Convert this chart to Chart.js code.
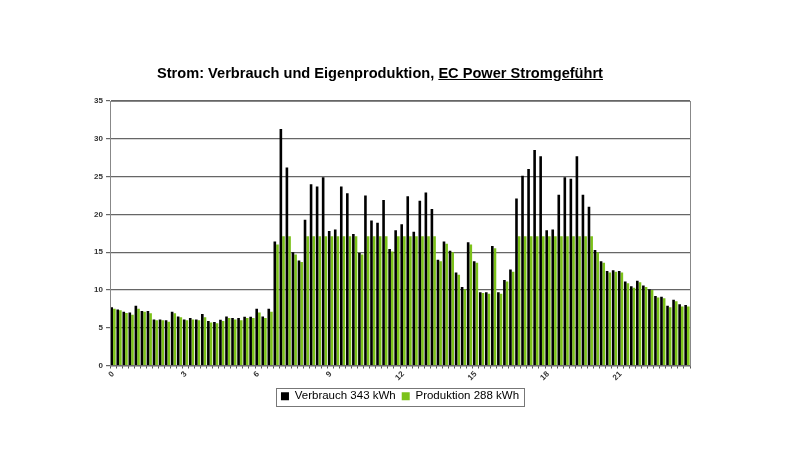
<!DOCTYPE html>
<html lang="de">
<head>
<meta charset="UTF-8">
<title>Strom: Verbrauch und Eigenproduktion</title>
<script src="https://cdn.jsdelivr.net/npm/chart.js"></script>
<style>
  body { margin: 0; background: #fff; }
  #wrap { position: relative; width: 800px; height: 450px; }
  #title {
    position: absolute; left: 0; width: 760px; top: 65px;
    text-align: center; white-space: nowrap;
    font: bold 14.6px "Liberation Sans", Arial, sans-serif; color: #000;
  }
  canvas { display: block; }
</style>
</head>
<body>
<div id="wrap">
  <div id="title">Strom: Verbrauch und Eigenproduktion, <u>EC Power Stromgeführt</u></div>
  <canvas id="chart" width="800" height="450"></canvas>
</div>
<script>
// 96 Viertelstunden, Beschriftung alle 3 Stunden
const slots = Array.from({ length: 96 }, (_, i) => i / 4);
const hourLabels = ['0', '3', '6', '9', '12', '15', '18', '21'];

// kW je Viertelstunde
const verbrauch = [
  7.7, 7.4, 7.1, 7.0, 7.9, 7.2, 7.2, 6.1, 6.1, 6.0, 7.1, 6.5,
  6.1, 6.3, 6.1, 6.8, 5.9, 5.75, 6.05, 6.5, 6.3, 6.3, 6.45, 6.45,
  7.5, 6.5, 7.5, 16.4, 31.3, 26.2, 15.0, 13.9, 19.3, 24.0, 23.7, 24.9,
  17.8, 18.0, 23.7, 22.8, 17.4, 14.9, 22.5, 19.2, 18.9, 21.9, 15.4, 17.9,
  18.7, 22.4, 17.7, 21.8, 22.9, 20.7, 14.0, 16.4, 15.2, 12.3, 10.4, 16.3,
  13.8, 9.7, 9.7, 15.8, 9.7, 11.3, 12.7, 22.1, 25.1, 26.0, 28.5, 27.7,
  17.9, 18.0, 22.6, 24.9, 24.7, 27.7, 22.6, 21.0, 15.3, 13.8, 12.5, 12.6,
  12.5, 11.1, 10.5, 11.2, 10.6, 10.1, 9.2, 9.1, 7.9, 8.7, 8.1, 8.0
];
const produktion = [
  7.5, 7.3, 6.95, 6.7, 7.5, 7.1, 6.9, 6.0, 6.0, 5.8, 6.9, 6.4,
  6.0, 6.1, 6.0, 6.4, 5.7, 5.6, 5.9, 6.3, 6.1, 6.0, 6.3, 6.3,
  7.0, 6.3, 7.1, 16.0, 17.1, 17.1, 14.7, 13.7, 17.1, 17.1, 17.1, 17.1,
  17.1, 17.1, 17.1, 17.1, 17.1, 14.7, 17.1, 17.1, 17.1, 17.1, 15.1, 17.1,
  17.1, 17.1, 17.1, 17.1, 17.1, 17.1, 13.8, 16.1, 15.0, 12.0, 10.1, 16.0,
  13.6, 9.6, 9.5, 15.5, 9.5, 11.1, 12.4, 17.1, 17.1, 17.1, 17.1, 17.1,
  17.1, 17.1, 17.1, 17.1, 17.1, 17.1, 17.1, 17.1, 15.0, 13.6, 12.3, 12.4,
  12.3, 10.9, 10.3, 11.0, 10.4, 10.0, 9.0, 8.9, 7.7, 8.5, 7.8, 7.8
];

const font = '"Liberation Sans", Arial, sans-serif';

// Legende mittig unter der Plotfläche statt unter der ganzen Breite
const centerLegend = {
  id: 'centerLegend',
  afterLayout(chart) {
    const lg = chart.legend;
    const a = chart.chartArea;
    const d = (a.left + a.right) / 2 - (lg.left + lg.right) / 2;
    lg.left += d;
    lg.right += d;
    lg.legendHitBoxes.forEach(b => { b.left += d; });
  }
};

// Rahmen um Plotfläche und Legende
const frames = {
  id: 'frames',
  afterDraw(chart) {
    const ctx = chart.ctx;
    const a = chart.chartArea;
    ctx.save();
    ctx.strokeStyle = '#888';
    ctx.lineWidth = 1;
    ctx.strokeRect(a.left + 0.5, a.top + 0.5, a.right - a.left, a.bottom - a.top);
    const boxes = chart.legend.legendHitBoxes;
    if (boxes.length) {
      const first = boxes[0], last = boxes[boxes.length - 1];
      const x0 = first.left - 5, x1 = last.left + last.width + 5;
      const y0 = first.top - 3, h = first.height + 6;
      ctx.strokeStyle = '#777';
      ctx.strokeRect(Math.round(x0) + 0.5, Math.round(y0) + 0.5, Math.round(x1 - x0), Math.round(h));
    }
    ctx.restore();
  }
};

new Chart(document.getElementById('chart'), {
  type: 'bar',
  data: {
    labels: slots,
    datasets: [
      { label: 'Verbrauch 343 kWh', data: verbrauch, backgroundColor: '#000000', borderWidth: 0 },
      { label: 'Produktion 288 kWh', data: produktion, backgroundColor: '#7cc21a', borderWidth: 0 }
    ]
  },
  options: {
    responsive: false,
    animation: false,
    datasets: { bar: { categoryPercentage: 0.88, barPercentage: 0.98 } },
    layout: { padding: { left: 86, right: 110, top: 101, bottom: 38 } },
    plugins: {
      title: { display: false },
      tooltip: { enabled: false },
      legend: {
        position: 'bottom',
        labels: {
          boxWidth: 8, boxHeight: 8, padding: 6,
          color: '#000', font: { family: font, size: 11.5 }
        }
      }
    },
    scales: {
      x: {
        grid: { drawOnChartArea: false, offset: true, tickLength: 3, color: '#555' },
        border: { color: '#555' },
        ticks: {
          autoSkip: false, maxRotation: 45, minRotation: 45, padding: 1,
          color: '#333', font: { family: font, size: 8, weight: 'bold' },
          callback: (v, i) => (i % 12 === 0 ? hourLabels[i / 12] : '')
        },
        afterFit: s => { s.height = 19; }
      },
      y: {
        min: 0, max: 35,
        ticks: { stepSize: 5, padding: 3, color: '#333', font: { family: font, size: 8, weight: 'bold' } },
        grid: { color: '#666', lineWidth: 1.2, tickLength: 4 },
        border: { color: '#444' },
        afterFit: s => { s.width = 24; }
      }
    }
  },
  plugins: [centerLegend, frames]
});
</script>
</body>
</html>
